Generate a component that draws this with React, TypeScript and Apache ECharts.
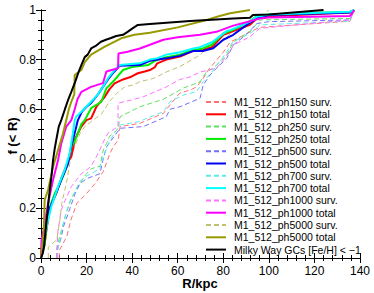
import React, { useEffect, useRef } from "react";
import * as echarts from "echarts";

type Pt = [number, number];

const xTicks = [0, 20, 40, 60, 80, 100, 120, 140];
const yTicks = [0, 0.2, 0.4, 0.6, 0.8, 1];
const xTitle = "R/kpc";
const yTitle = "f (< R)";

const ph150Surv: Pt[] = [[8,0],[8,0.03],[11.3,0.086],[13,0.15],[15.7,0.22],[20,0.26],[23.7,0.3],[27.3,0.348],[30.3,0.422],[31.7,0.449],[33.9,0.476],[34.7,0.53],[43.4,0.543],[53.7,0.583],[59.5,0.65],[61,0.665],[65.4,0.677],[68.3,0.69],[71.2,0.724],[73.4,0.758],[80,0.83],[83,0.87],[92.5,0.915],[96,0.93],[135.6,0.955],[137.5,1]];
const ph150Total: Pt[] = [[0,0],[0.5,0.02],[1.5,0.05],[2.5,0.12],[3.8,0.194],[5,0.23],[6.7,0.26],[8.5,0.31],[10.4,0.355],[12,0.39],[13.3,0.408],[14.8,0.476],[16,0.5],[17.7,0.53],[19.9,0.556],[22,0.563],[24.3,0.61],[28,0.65],[30,0.68],[32.3,0.704],[36,0.72],[39.6,0.731],[42.5,0.745],[45.5,0.752],[47.8,0.758],[50,0.77],[51,0.785],[55,0.8],[61,0.812],[66.9,0.835],[71,0.84],[75,0.85],[80,0.9],[84.4,0.915],[91.7,0.94],[94.6,0.966],[100,0.975],[135.6,0.99],[137.5,1]];
const ph250Surv: Pt[] = [[6.9,0],[6.9,0.03],[8,0.08],[9.5,0.13],[11,0.18],[13,0.23],[15,0.27],[17,0.3],[20,0.34],[22,0.36],[25.9,0.37],[27.3,0.435],[28.8,0.462],[30,0.49],[33.9,0.52],[34.7,0.57],[43.4,0.61],[53.7,0.64],[62.4,0.685],[69.8,0.71],[72.7,0.752],[75.6,0.765],[81.5,0.819],[84.4,0.87],[92.5,0.919],[96,0.96],[135.6,0.966],[137.5,1]];
const ph250Total: Pt[] = [[0,0],[0.5,0.02],[1.5,0.05],[3.1,0.18],[4.5,0.22],[6,0.26],[7.8,0.29],[9.6,0.328],[11.8,0.38],[13.3,0.45],[14.8,0.47],[16.2,0.503],[17.7,0.54],[19.2,0.556],[22,0.604],[26.5,0.63],[28.7,0.684],[32.3,0.718],[36,0.758],[40,0.77],[47,0.778],[50,0.795],[55,0.81],[61,0.82],[66.9,0.84],[71,0.845],[75,0.86],[80,0.905],[84.4,0.92],[91.7,0.955],[94.6,0.975],[100,0.982],[135.6,0.993],[137.5,1]];
const ph500Surv: Pt[] = [[7,0],[7,0.03],[8.5,0.07],[10,0.13],[12.7,0.2],[15,0.26],[17.1,0.3],[20,0.32],[25.9,0.34],[27.3,0.4],[28.8,0.449],[34.7,0.523],[44.9,0.53],[55,0.57],[56.6,0.6],[61,0.61],[69.8,0.644],[71.2,0.698],[74.2,0.738],[77,0.765],[81.5,0.805],[84.4,0.859],[90,0.9],[94.6,0.945],[100,0.953],[135.6,0.96],[137.5,1]];
const ph500Total: Pt[] = [[0,0],[0.5,0.03],[1.5,0.08],[2.3,0.14],[3.8,0.2],[6,0.247],[8.9,0.315],[11.8,0.38],[13.3,0.45],[15.5,0.53],[16.2,0.556],[18,0.59],[20,0.61],[22,0.625],[25,0.66],[27.2,0.69],[29.4,0.72],[32,0.75],[34.5,0.775],[43.4,0.778],[47.8,0.795],[55,0.805],[61,0.815],[66.9,0.835],[71,0.835],[75.6,0.846],[80,0.88],[84.4,0.9],[90.3,0.94],[94.6,0.966],[100,0.98],[135.6,0.99],[137.5,1]];
const ph700Surv: Pt[] = [[7,0],[7,0.02],[8.5,0.08],[10,0.15],[12.7,0.23],[15,0.27],[17.1,0.31],[20,0.33],[25.9,0.36],[27.3,0.41],[28.8,0.44],[30.3,0.476],[34.7,0.536],[43,0.55],[53.7,0.59],[56.6,0.63],[62.4,0.657],[68.3,0.671],[71.2,0.711],[75,0.75],[81.5,0.83],[84,0.87],[92.5,0.91],[96,0.94],[135.6,0.955],[137.5,1]];
const ph700Total: Pt[] = [[0,0],[0.3,0.03],[1,0.06],[3.1,0.153],[4.5,0.207],[7.5,0.288],[10.4,0.355],[12.6,0.422],[14,0.503],[14.8,0.556],[15.5,0.57],[17.7,0.59],[22,0.63],[25,0.66],[27.2,0.69],[29.4,0.725],[32,0.755],[34.5,0.778],[43.4,0.785],[47.8,0.8],[50.8,0.805],[55,0.82],[61,0.83],[66.9,0.845],[69.8,0.85],[75,0.87],[81.5,0.915],[83,0.919],[91.7,0.953],[94.6,0.973],[100,0.982],[135.6,0.993],[137.5,1]];
const ph1000Surv: Pt[] = [[6.9,0],[6.9,0.03],[7.5,0.113],[8.9,0.194],[10.5,0.23],[13.3,0.288],[17.7,0.34],[20,0.355],[22,0.37],[25,0.42],[28,0.48],[29.4,0.503],[33.8,0.53],[33.8,0.624],[39.6,0.637],[44.9,0.65],[55,0.69],[61,0.72],[65.4,0.73],[69.8,0.75],[77,0.765],[83,0.832],[84.4,0.859],[91.7,0.892],[96,0.926],[135.6,0.96],[137.5,1]];
const ph1000Total: Pt[] = [[0,0],[0.2,0.07],[1.5,0.13],[3.1,0.22],[5.3,0.315],[7.5,0.395],[8.9,0.462],[11.1,0.53],[13.3,0.556],[14.8,0.6],[16,0.64],[17.7,0.67],[22,0.69],[27.2,0.705],[28.7,0.752],[33.8,0.765],[34,0.825],[38,0.832],[43.4,0.845],[47.8,0.86],[53.7,0.88],[60,0.89],[69.8,0.9],[77,0.912],[84.4,0.937],[91.7,0.955],[96,0.966],[100,0.97],[135.6,0.976],[137.5,1]];
const ph5000Surv: Pt[] = [[3.2,0],[3.2,0.045],[6.9,0.073],[8.3,0.153],[9.1,0.22],[11.1,0.3],[13,0.4],[14.8,0.45],[17,0.5],[19.2,0.53],[22.8,0.556],[26.5,0.58],[30,0.63],[33.2,0.664],[36.7,0.69],[40.5,0.698],[43.4,0.711],[49.3,0.724],[55,0.75],[61,0.772],[69.8,0.819],[74.2,0.859],[80,0.879],[85,0.92],[91.7,0.94],[96,0.97],[100,1]];
const ph5000Total: Pt[] = [[0,0],[0.5,0.05],[1.2,0.1],[1.6,0.234],[3.1,0.274],[5.3,0.368],[7.5,0.435],[9.6,0.5],[11.1,0.556],[12.2,0.6],[13.3,0.63],[14.6,0.66],[14.8,0.738],[17.7,0.758],[19.2,0.79],[22,0.82],[28,0.852],[35.2,0.886],[41,0.9],[47.8,0.908],[60,0.93],[72.7,0.96],[78,0.975],[83,0.987],[91.7,1]];
const milkyWay: Pt[] = [[0,0],[0.8,0.02],[1.3,0.045],[2,0.11],[2.8,0.18],[3.3,0.23],[3.8,0.27],[4.6,0.33],[5.3,0.395],[6,0.44],[6.7,0.476],[7.8,0.53],[8.9,0.556],[10.5,0.6],[12,0.64],[13.3,0.67],[15,0.71],[16.5,0.75],[17.7,0.778],[19.2,0.81],[20.5,0.82],[22,0.845],[24,0.855],[26.3,0.872],[28.5,0.88],[30.7,0.887],[33,0.895],[36,0.9],[38,0.912],[40,0.925],[42.5,0.94],[47.8,0.944],[65.4,0.956],[84.4,0.966],[91.7,0.969],[93,0.98],[100,0.982],[124,1]];

const seriesNames = [
  "M1_512_ph150 surv.", "M1_512_ph150 total",
  "M1_512_ph250 surv.", "M1_512_ph250 total",
  "M1_512_ph500 surv.", "M1_512_ph500 total",
  "M1_512_ph700 surv.", "M1_512_ph700 total",
  "M1_512_ph1000 surv.", "M1_512_ph1000 total",
  "M1_512_ph5000 surv.", "M1_512_ph5000 total",
  "Milky Way GCs [Fe/H] < \u22121",
];
const seriesData = [
  ph150Surv, ph150Total, ph250Surv, ph250Total, ph500Surv, ph500Total,
  ph700Surv, ph700Total, ph1000Surv, ph1000Total, ph5000Surv, ph5000Total, milkyWay,
];
const seriesColors = [
  "#ff7070", "#ff0000", "#60e060", "#00ee00", "#7070ff", "#0000ee",
  "#60e8e8", "#00ffff", "#ff70ff", "#ff00ff", "#c0c070", "#999900", "#000000",
];

export default function App() {
  const ref = useRef<HTMLDivElement>(null);
  useEffect(() => {
    document.body.style.margin = "0";
    const chart = echarts.init(ref.current!, null, { renderer: "svg" });
    const font = "Liberation Sans, Arial, Helvetica, sans-serif";
    const series = seriesData.map((d, i) => {
      const surv = seriesNames[i].endsWith("surv.");
      return {
        name: seriesNames[i],
        type: "line",
        data: d,
        symbol: "none",
        showSymbol: false,
        clip: true,
        color: seriesColors[i],
        lineStyle: {
          color: seriesColors[i],
          width: surv ? 1 : 2,
          type: surv ? [5, 3] : "solid",
        },
        z: surv ? 2 : 3,
      };
    });
    const mkTick = () => ({ show: true, inside: true, length: 5, lineStyle: { color: "#000" } });
    const mkMinor = () => ({ show: true, splitNumber: 5, length: 3, lineStyle: { color: "#000" } });
    chart.setOption({
      animation: false,
      backgroundColor: "#fff",
      grid: { left: 41, right: 14, top: 10, bottom: 35 },
      legend: {
        orient: "vertical",
        left: 200,
        top: 91,
        itemWidth: 20,
        itemHeight: 12,
        itemGap: 0.3,
        itemStyle: { color: "transparent", borderColor: "transparent", borderWidth: 0 },
        data: seriesNames,
        textStyle: { fontSize: 10.5, fontFamily: font, color: "#000", lineHeight: 12, padding: [0, 0, 0, 3] },
      },
      graphic: [
        {
          type: "text", x: 200, y: 283,
          style: { text: xTitle, font: "bold 13px " + font, fill: "#000", align: "center", verticalAlign: "middle" },
        },
        {
          type: "text", x: 12, y: 136, rotation: Math.PI / 2,
          style: { text: yTitle, font: "bold 13px " + font, fill: "#000", align: "center", verticalAlign: "middle" },
        },
      ],
      xAxis: [
        {
          type: "value", min: xTicks[0], max: xTicks[xTicks.length - 1], interval: 20,
          axisLine: { show: true, lineStyle: { color: "#000" } },
          axisTick: mkTick(), minorTick: mkMinor(),
          axisLabel: { fontSize: 12, fontFamily: font, color: "#000", margin: 7 },
          splitLine: { show: false },
        },
        {
          type: "value", position: "top", min: xTicks[0], max: xTicks[xTicks.length - 1], interval: 20,
          axisLine: { show: true, lineStyle: { color: "#000" } },
          axisTick: mkTick(), minorTick: mkMinor(),
          axisLabel: { show: false }, splitLine: { show: false },
        },
      ],
      yAxis: [
        {
          type: "value", min: yTicks[0], max: yTicks[yTicks.length - 1], interval: 0.2,
          axisLine: { show: true, lineStyle: { color: "#000" } },
          axisTick: mkTick(), minorTick: mkMinor(),
          axisLabel: {
            fontSize: 12, fontFamily: font, color: "#000", margin: 5,
            formatter: (v: number) => (v === 0 ? "0" : v === 1 ? "1" : v.toFixed(1)),
          },
          splitLine: { show: false },
        },
        {
          type: "value", position: "right", min: yTicks[0], max: yTicks[yTicks.length - 1], interval: 0.2,
          axisLine: { show: true, lineStyle: { color: "#000" } },
          axisTick: mkTick(), minorTick: mkMinor(),
          axisLabel: { show: false }, splitLine: { show: false },
        },
      ],
      series,
    });
    return () => chart.dispose();
  }, []);
  return <div ref={ref} style={{ width: 374, height: 293 }} />;
}
